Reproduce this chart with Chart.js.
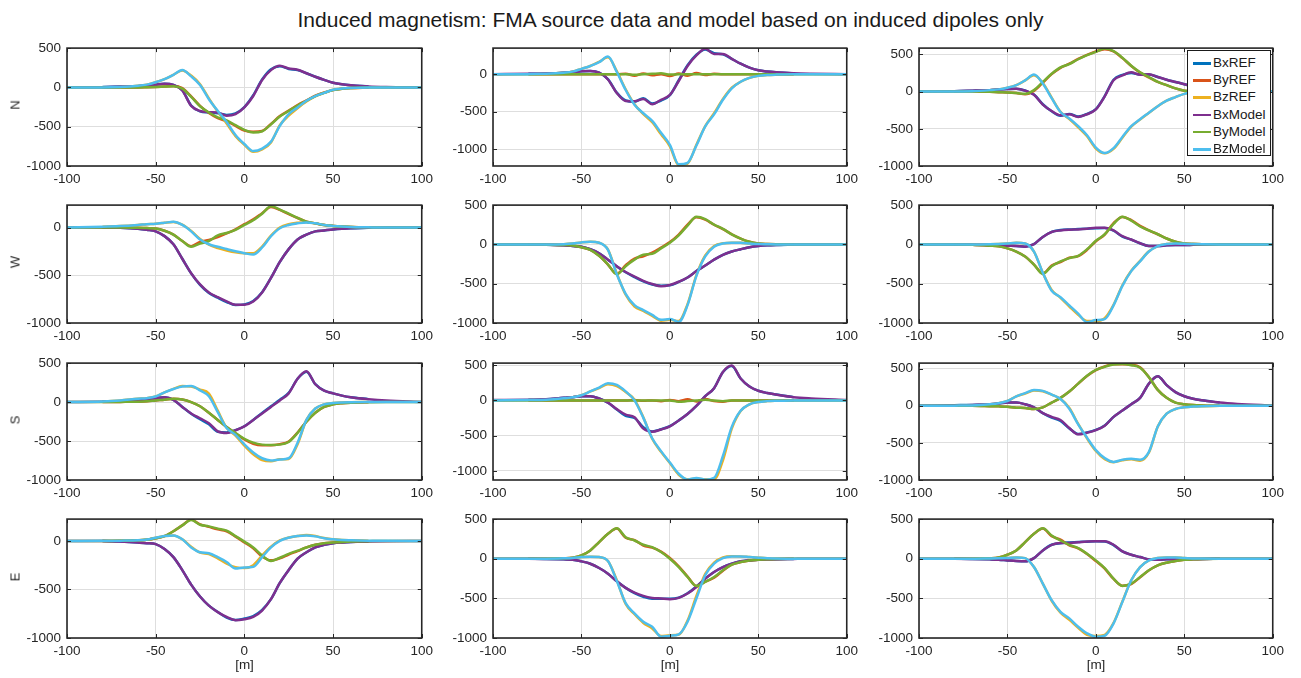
<!DOCTYPE html>
<html>
<head>
<meta charset="utf-8">
<script src="https://cdn.jsdelivr.net/npm/chart.js@4.4.0/dist/chart.umd.min.js"></script>
<style>
body{margin:0;background:#fff;}
#page{position:relative;width:1301px;height:678px;overflow:hidden;font-family:"Liberation Sans",Arial,sans-serif;color:#262626;background:#fff;}
canvas{position:absolute;}
.title{position:absolute;left:0;width:1341px;top:8px;text-align:center;font-size:21px;color:#1a1a1a;}
.rowlab{position:absolute;font-size:13px;font-weight:normal;color:#262626;transform:translate(-50%,-50%) rotate(-90deg);}
.xlab{position:absolute;font-size:13.5px;transform:translateX(-50%);top:657px;}
#legend{position:absolute;left:1187px;top:50px;width:82px;height:104px;border:1.5px solid #1a1a1a;background:#fff;}
#legend .item{position:absolute;left:0;height:16px;width:82px;}
#legend .sw{position:absolute;left:5px;top:7px;width:18px;height:2.5px;}
#legend .tx{position:absolute;left:25px;top:0;font-size:13.5px;line-height:16px;color:#1a1a1a;}
</style>
</head>
<body>
<div id="page">
  <div class="title">Induced magnetism: FMA source data and model based on induced dipoles only</div>
</div>
<script>
// x positions [m]
const xModel = [-100,-80,-70,-60,-55,-50,-45,-40,-35,-30,-25,-20,-15,-10,-5,0,5,10,15,20,25,30,35,40,45,50,55,60,70,80,100];
const xRef = [-80,-70,-60,-55,-50,-45,-40,-35,-30,-25,-20,-15,-10,-5,0,5,10,15,20,25,30,35,40,45,50,55,60,70];
const xTicks = [-100,-50,0,50,100];

const rowNames = ['N','W','S','E'];
const seriesNames = ['BxREF','ByREF','BzREF','BxModel','ByModel','BzModel'];
const seriesColors = ['#0072BD','#D95319','#EDB120','#7E2F8E','#77AC30','#4DBEEE'];

// y limits and ticks per row, per column
const yMin = [[-1000,-1222,-1000],[-1000,-1000,-1000],[-1000,-1130,-1000],[-1000,-1000,-1000]];
const yMax = [[500,348,585],[235,500,500],[500,530,575],[225,500,500]];
const yTicks = [
  [[-1000,-500,0,500],[-1000,-500,0],[-1000,-500,0,500]],
  [[-1000,-500,0],[-1000,-500,0,500],[-1000,-500,0,500]],
  [[-1000,-500,0,500],[-1000,-500,0,500],[-1000,-500,0,500]],
  [[-1000,-500,0],[-1000,-500,0,500],[-1000,-500,0,500]]
];

// ---- N ----
const bxModelN = [
  [0,3,8,15,25,35,45,30,-40,-235,-300,-315,-320,-360,-340,-255,-110,95,220,275,240,225,180,135,95,60,40,28,12,5,0],
  [0,5,10,20,30,40,42,20,-70,-250,-355,-360,-330,-400,-340,-275,-90,110,250,340,270,270,205,140,87,52,35,25,12,6,0],
  [0,5,12,20,28,35,40,13,-43,-174,-260,-317,-304,-340,-304,-240,-65,152,217,260,226,235,196,160,130,100,70,50,25,10,0]
];
const byModelN = [
  [0,0,0,0,2,5,10,15,-15,-120,-240,-320,-380,-420,-480,-540,-575,-560,-470,-370,-300,-230,-170,-110,-70,-35,-18,-8,-2,0,0],
  [0,0,0,0,0,0,0,0,0,0,0,-8,0,5,12,-5,0,0,0,0,0,0,0,0,0,0,0,0,0,0,0],
  [0,0,0,-3,-8,-12,-20,-30,20,130,240,326,370,435,490,535,578,543,456,348,260,196,130,87,43,13,5,2,0,0,0]
];
const bzModelN = [
  [0,0,5,20,35,65,105,160,220,140,30,-150,-300,-440,-605,-720,-810,-780,-690,-490,-340,-255,-170,-110,-70,-30,-15,-8,-2,0,0],
  [0,0,5,20,35,72,110,160,235,30,-210,-405,-520,-620,-780,-940,-1200,-1180,-950,-695,-535,-340,-187,-100,-48,-22,-10,-5,-1,0,0],
  [0,0,5,20,30,52,87,152,230,109,-87,-274,-361,-465,-587,-752,-826,-760,-609,-465,-370,-283,-196,-122,-74,-30,-12,-5,-1,0,0]
];
const bxRefN = [
  [5,10,15,25,35,45,32,-35,-230,-305,-320,-330,-350,-330,-250,-100,100,230,270,235,220,180,135,95,60,40,28,12],
  [5,10,20,30,40,42,22,-65,-245,-350,-365,-320,-390,-350,-280,-80,120,260,330,280,265,205,140,87,52,35,25,12],
  [5,12,20,28,35,40,15,-40,-170,-265,-325,-300,-335,-300,-235,-60,160,225,250,230,230,196,160,130,100,70,50,25]
];
const byRefN = [
  [0,0,0,2,5,10,18,-10,-115,-235,-325,-390,-430,-490,-550,-565,-555,-465,-365,-295,-225,-165,-105,-65,-35,-18,-8,-2],
  [0,0,0,0,0,0,0,0,0,5,-20,10,-15,0,-25,10,-20,15,-10,5,0,0,0,0,0,0,0,0],
  [0,0,-3,-8,-12,-20,-35,10,120,235,320,375,440,495,540,570,540,450,345,255,190,130,87,43,13,5,2,0]
];
const bzRefN = [
  [0,5,20,35,65,105,160,215,150,40,-140,-310,-460,-620,-730,-820,-790,-700,-480,-360,-265,-180,-115,-70,-30,-15,-8,-2],
  [0,5,20,35,72,110,165,225,40,-200,-400,-530,-640,-800,-960,-1210,-1190,-940,-690,-520,-330,-180,-100,-48,-22,-10,-5,-1],
  [0,5,20,30,52,87,150,220,115,-80,-270,-370,-480,-600,-765,-830,-770,-620,-470,-375,-285,-196,-122,-74,-30,-12,-5,-1]
];

// ---- W ----
const bxModelW = [
  [0,0,-3,-13,-24,-40,-90,-175,-327,-478,-596,-680,-730,-774,-808,-808,-774,-680,-528,-360,-226,-125,-74,-40,-30,-20,-13,-8,-3,0,0],
  [0,0,-3,-12,-20,-29,-62,-112,-194,-277,-351,-409,-463,-504,-533,-516,-475,-421,-339,-269,-194,-132,-91,-62,-37,-21,-12,-7,-2,0,0],
  [0,0,-3,-8,-12,-17,-21,-29,4,95,158,178,187,191,199,212,212,178,104,62,15,-21,-21,-12,-8,-8,-5,-3,-1,0,0]
];
const byModelW = [
  [0,0,0,-3,-6,-10,-34,-74,-141,-202,-168,-141,-81,-57,-24,27,77,145,222,188,145,101,61,44,27,17,10,5,2,0,0],
  [0,0,-3,-8,-15,-37,-70,-145,-256,-380,-277,-194,-132,-120,-50,21,116,240,351,322,252,198,128,74,33,12,5,2,0,0,0],
  [0,0,-5,-17,-25,-50,-91,-154,-257,-375,-278,-216,-174,-145,-62,46,129,261,353,303,228,178,129,75,33,12,5,2,0,0,0]
];
const bzModelW = [
  [0,8,15,27,35,40,50,60,27,-40,-125,-175,-202,-225,-249,-269,-283,-209,-91,-7,27,44,54,44,27,17,10,5,2,0,0],
  [0,0,0,3,10,25,33,21,-70,-380,-628,-773,-835,-897,-959,-950,-985,-773,-401,-153,-29,12,21,21,12,4,2,0,0,0,0],
  [0,0,0,3,6,12,21,12,-91,-361,-589,-672,-776,-880,-990,-963,-950,-776,-527,-340,-216,-91,-21,4,12,8,4,2,0,0,0]
];
const bxRefW = [
  [0,-3,-13,-24,-40,-90,-175,-327,-480,-600,-685,-735,-780,-812,-805,-770,-678,-528,-360,-226,-125,-74,-40,-30,-20,-13,-8,-3],
  [0,-3,-12,-20,-29,-62,-112,-194,-280,-355,-415,-470,-510,-525,-520,-478,-421,-339,-269,-194,-132,-91,-62,-37,-21,-12,-7,-2],
  [0,-3,-8,-12,-17,-21,-29,4,95,160,182,190,195,200,205,208,175,100,60,15,-21,-21,-12,-8,-8,-5,-3,-1]
];
const byRefW = [
  [0,0,-3,-6,-10,-34,-74,-141,-195,-150,-130,-100,-60,-20,35,85,150,215,185,140,100,61,44,27,17,10,5,2],
  [0,-3,-8,-15,-37,-70,-145,-256,-375,-265,-180,-150,-105,-40,30,125,250,345,315,250,195,128,74,33,12,5,2,0],
  [0,-5,-17,-25,-50,-91,-154,-257,-370,-270,-225,-170,-150,-70,40,125,270,350,310,235,178,129,75,33,12,5,2,0]
];
const bzRefW = [
  [8,15,27,35,40,50,58,30,-35,-120,-180,-215,-240,-260,-270,-270,-200,-85,0,35,50,56,44,27,17,10,5,2],
  [0,0,3,10,25,33,21,-65,-370,-640,-790,-845,-910,-970,-960,-975,-760,-390,-140,-20,15,21,21,12,4,2,0,0],
  [0,0,3,6,12,21,12,-91,-361,-580,-680,-790,-895,-975,-975,-940,-770,-520,-335,-210,-88,-21,4,12,8,4,2,0]
];

// ---- S ----
const bxModelS = [
  [0,5,8,21,37,50,62,29,-62,-146,-208,-271,-375,-396,-362,-312,-229,-146,-62,21,112,300,395,229,146,112,83,62,37,20,2],
  [5,10,15,37,45,60,60,28,-32,-124,-202,-239,-400,-445,-413,-367,-284,-193,-78,60,174,404,495,312,197,138,105,83,46,28,5],
  [3,8,12,21,30,43,43,21,-21,-98,-150,-192,-299,-385,-363,-329,-269,-150,-64,21,107,299,397,278,184,128,94,73,43,25,3]
];
const byModelS = [
  [0,0,2,5,10,21,30,42,33,0,-54,-137,-229,-321,-396,-471,-521,-546,-550,-546,-512,-396,-250,-137,-62,-29,-15,-8,-3,0,0],
  [0,0,0,0,0,0,0,0,0,0,0,0,0,0,0,0,-20,-10,0,10,0,-10,0,0,0,0,0,0,0,0,0],
  [0,0,0,-5,-8,-13,-25,-30,-43,-21,43,107,192,299,406,483,526,556,564,547,513,385,214,107,43,21,10,5,0,0,0]
];
const bzModelS = [
  [0,8,20,42,50,71,125,167,200,205,150,75,-130,-333,-420,-542,-646,-721,-750,-737,-721,-521,-229,-83,-29,-12,-5,-2,0,0,0],
  [0,5,10,30,45,73,128,183,243,220,128,0,-248,-537,-720,-881,-1041,-1125,-1100,-1125,-1100,-789,-376,-147,-55,-23,-10,-5,-1,0,0],
  [0,2,5,21,35,64,128,171,214,201,150,90,-40,-250,-430,-598,-705,-756,-726,-714,-726,-620,-278,-107,-43,-21,-10,-5,-1,0,0]
];
const bxRefS = [
  [5,8,21,37,50,62,29,-62,-150,-220,-285,-380,-390,-360,-310,-229,-140,-55,30,118,300,390,229,146,112,83,62,37],
  [10,15,37,45,60,60,28,-32,-130,-220,-250,-380,-440,-410,-365,-284,-193,-78,60,174,404,490,312,197,138,105,83,46],
  [8,12,21,30,43,43,21,-21,-100,-160,-205,-305,-380,-360,-325,-265,-150,-64,21,107,299,397,278,184,128,94,73,43]
];
const byRefS = [
  [0,2,5,10,21,30,42,33,0,-54,-137,-229,-321,-400,-480,-535,-555,-555,-540,-505,-390,-250,-137,-62,-29,-15,-8,-3],
  [0,0,0,0,0,0,0,0,0,0,5,-5,0,-10,5,-10,15,-15,20,-10,-20,0,0,0,0,0,0,0],
  [0,0,-5,-8,-13,-25,-30,-43,-21,43,107,192,299,400,480,530,560,560,555,520,385,214,107,43,21,10,5,0]
];
const bzRefS = [
  [8,20,42,50,71,125,170,205,200,160,110,-110,-330,-430,-560,-670,-745,-760,-735,-730,-540,-229,-83,-29,-12,-5,-2,0],
  [5,10,30,45,73,128,175,230,205,120,10,-240,-545,-730,-890,-1055,-1120,-1110,-1120,-1120,-850,-400,-150,-55,-23,-10,-5,-1],
  [2,5,21,35,64,128,165,205,195,150,95,-30,-245,-440,-610,-720,-760,-735,-720,-740,-630,-278,-107,-43,-21,-10,-5,-1]
];

// ---- E ----
const bxModelE = [
  [0,0,-7,-17,-23,-33,-83,-167,-300,-450,-573,-667,-733,-783,-817,-807,-783,-717,-600,-433,-300,-183,-117,-67,-40,-23,-15,-10,-5,-2,0],
  [0,0,-3,-8,-12,-33,-63,-117,-188,-285,-368,-427,-469,-494,-502,-510,-494,-439,-356,-251,-167,-105,-63,-33,-21,-13,-8,-5,-2,0,0],
  [0,0,-3,-8,-12,-21,-29,-33,8,105,176,200,200,209,218,222,222,176,92,50,21,-8,-13,-8,-5,-4,-3,-2,-1,0,0]
];
const byModelE = [
  [0,0,2,7,12,27,50,100,160,217,167,150,127,107,50,-7,-67,-150,-207,-173,-133,-100,-67,-40,-23,-17,-10,-5,-2,0,0],
  [0,0,0,5,12,42,105,209,314,385,272,230,176,146,84,0,-105,-230,-343,-293,-230,-146,-75,-42,-21,-13,-7,-3,0,0,0],
  [0,0,0,5,15,50,105,209,314,385,293,230,176,134,63,-21,-117,-251,-343,-314,-230,-146,-84,-50,-29,-13,-7,-3,0,0,0]
];
const bzModelE = [
  [0,1,3,7,15,33,50,57,17,-67,-117,-127,-167,-217,-283,-273,-267,-167,-67,0,33,50,57,47,27,17,10,7,3,1,0],
  [0,0,0,5,10,21,25,21,-30,-280,-560,-690,-795,-858,-983,-971,-954,-795,-502,-209,-63,8,29,29,21,13,6,3,0,0,0],
  [0,0,0,3,5,8,17,8,-105,-314,-523,-669,-753,-858,-941,-983,-971,-816,-544,-272,-105,-21,8,17,17,8,4,2,0,0,0]
];
const bxRefE = [
  [0,-7,-17,-23,-33,-83,-167,-300,-450,-573,-667,-733,-790,-815,-800,-775,-710,-600,-433,-300,-183,-117,-67,-40,-23,-15,-10,-5],
  [0,-3,-8,-12,-33,-63,-117,-188,-285,-368,-435,-480,-505,-505,-505,-490,-435,-350,-251,-167,-105,-63,-33,-21,-13,-8,-5,-2],
  [0,-3,-8,-12,-21,-29,-33,8,105,176,195,205,212,215,220,218,172,92,50,21,-8,-13,-8,-5,-4,-3,-2,-1]
];
const byRefE = [
  [0,2,7,12,27,50,100,160,220,170,145,120,100,45,-15,-75,-160,-200,-180,-140,-105,-67,-40,-23,-17,-10,-5,-2],
  [0,0,5,12,42,105,209,314,380,265,235,165,140,90,10,-95,-225,-345,-290,-240,-150,-75,-42,-21,-13,-7,-3,0],
  [0,0,5,15,50,105,209,314,380,285,240,170,130,60,-30,-125,-255,-340,-320,-235,-146,-84,-50,-29,-13,-7,-3,0]
];
const bzRefE = [
  [1,3,7,15,33,50,57,17,-60,-120,-135,-180,-235,-270,-280,-250,-150,-60,5,35,50,60,50,30,17,10,7,3],
  [0,0,5,10,21,25,21,-30,-270,-570,-700,-810,-880,-975,-965,-960,-780,-470,-190,-50,15,30,29,21,13,6,3,0],
  [0,0,3,5,8,17,8,-105,-314,-530,-680,-770,-870,-960,-975,-960,-810,-540,-272,-105,-21,8,17,17,8,4,2,0]
];

const rowSeries = [
  [bxRefN, byRefN, bzRefN, bxModelN, byModelN, bzModelN],
  [bxRefW, byRefW, bzRefW, bxModelW, byModelW, bzModelW],
  [bxRefS, byRefS, bzRefS, bxModelS, byModelS, bzModelS],
  [bxRefE, byRefE, bzRefE, bxModelE, byModelE, bzModelE]
];

// layout of the plot boxes on the page
const plotLeft = [67, 493, 919];
const plotRight = [422, 847, 1273];
const plotTop = [44, 201, 359, 515];
const plotBottom = [166, 323, 480, 638];
const padL = 52, padT = 10, padR = 16, padB = 26;
const textColor = '#262626';
const tickFont = {family: '"Liberation Sans", Arial, sans-serif', size: 13.5};

const boxPlugin = {
  id: 'box',
  afterDraw(chart) {
    const {ctx, chartArea: a} = chart;
    const sx = chart.scales.x, sy = chart.scales.y;
    ctx.save();
    ctx.strokeStyle = textColor;
    ctx.lineWidth = 1;
    sx.ticks.forEach(t => {
      const p = Math.round(sx.getPixelForValue(t.value)) + 0.5;
      ctx.beginPath();
      ctx.moveTo(p, a.bottom); ctx.lineTo(p, a.bottom - 4);
      ctx.moveTo(p, a.top); ctx.lineTo(p, a.top + 4);
      ctx.stroke();
    });
    sy.ticks.forEach(t => {
      const p = Math.round(sy.getPixelForValue(t.value)) + 0.5;
      ctx.beginPath();
      ctx.moveTo(a.left, p); ctx.lineTo(a.left + 4, p);
      ctx.moveTo(a.right, p); ctx.lineTo(a.right - 4, p);
      ctx.stroke();
    });
    ctx.lineWidth = 1.6;
    ctx.strokeRect(a.left, a.top, a.right - a.left, a.bottom - a.top);
    ctx.restore();
  }
};

const page = document.getElementById('page');

for (let r = 0; r < 4; r++) {
  for (let c = 0; c < 3; c++) {
    const w = plotRight[c] - plotLeft[c] + padL + padR;
    const h = plotBottom[r] - plotTop[r] + padT + padB;
    const cv = document.createElement('canvas');
    cv.width = w; cv.height = h;
    cv.style.left = (plotLeft[c] - padL) + 'px';
    cv.style.top = (plotTop[r] - padT) + 'px';
    cv.style.width = w + 'px'; cv.style.height = h + 'px';
    page.appendChild(cv);

    const datasets = rowSeries[r].map((arr, s) => {
      const xs = s < 3 ? xRef : xModel;
      return {
        label: seriesNames[s],
        data: xs.map((v, i) => ({x: v, y: arr[c][i]})),
        borderColor: seriesColors[s],
        backgroundColor: seriesColors[s],
        borderWidth: 2.5,
        pointRadius: 0,
        fill: false,
        cubicInterpolationMode: 'monotone',
        order: 6 - s
      };
    });

    const yt = yTicks[r][c];
    new Chart(cv, {
      type: 'line',
      data: {datasets},
      options: {
        responsive: false,
        animation: false,
        events: [],
        layout: {padding: {top: padT, right: padR, left: 0, bottom: 0}},
        plugins: {legend: {display: false}, tooltip: {enabled: false}},
        scales: {
          x: {
            type: 'linear', min: -100, max: 100,
            afterBuildTicks: sc => { sc.ticks = xTicks.map(v => ({value: v})); },
            afterFit: sc => { sc.height = padB; },
            grid: {color: '#dedede', lineWidth: 1, drawTicks: false},
            border: {display: false},
            ticks: {font: tickFont, color: textColor, padding: 5, maxRotation: 0, callback: v => String(v)}
          },
          y: {
            type: 'linear', min: yMin[r][c], max: yMax[r][c],
            afterBuildTicks: sc => { sc.ticks = yt.map(v => ({value: v})); },
            afterFit: sc => { sc.width = padL; },
            grid: {color: '#dedede', lineWidth: 1, drawTicks: false},
            border: {display: false},
            ticks: {font: tickFont, color: textColor, padding: 6, callback: v => String(v)}
          }
        }
      },
      plugins: [boxPlugin]
    });
  }
  const lab = document.createElement('div');
  lab.className = 'rowlab';
  lab.textContent = rowNames[r];
  lab.style.left = '15px';
  lab.style.top = ((plotTop[r] + plotBottom[r]) / 2) + 'px';
  page.appendChild(lab);
}

// x axis labels under bottom row
for (let c = 0; c < 3; c++) {
  const d = document.createElement('div');
  d.className = 'xlab';
  d.textContent = '[m]';
  d.style.left = ((plotLeft[c] + plotRight[c]) / 2) + 'px';
  page.appendChild(d);
}

// legend (top right panel)
const leg = document.createElement('div');
leg.id = 'legend';
seriesNames.forEach((n, i) => {
  const it = document.createElement('div');
  it.className = 'item';
  it.style.top = (4 + i * 17.2) + 'px';
  it.innerHTML = '<div class="sw" style="background:' + seriesColors[i] + '"></div><div class="tx">' + n + '</div>';
  leg.appendChild(it);
});
page.appendChild(leg);
</script>
</body>
</html>
